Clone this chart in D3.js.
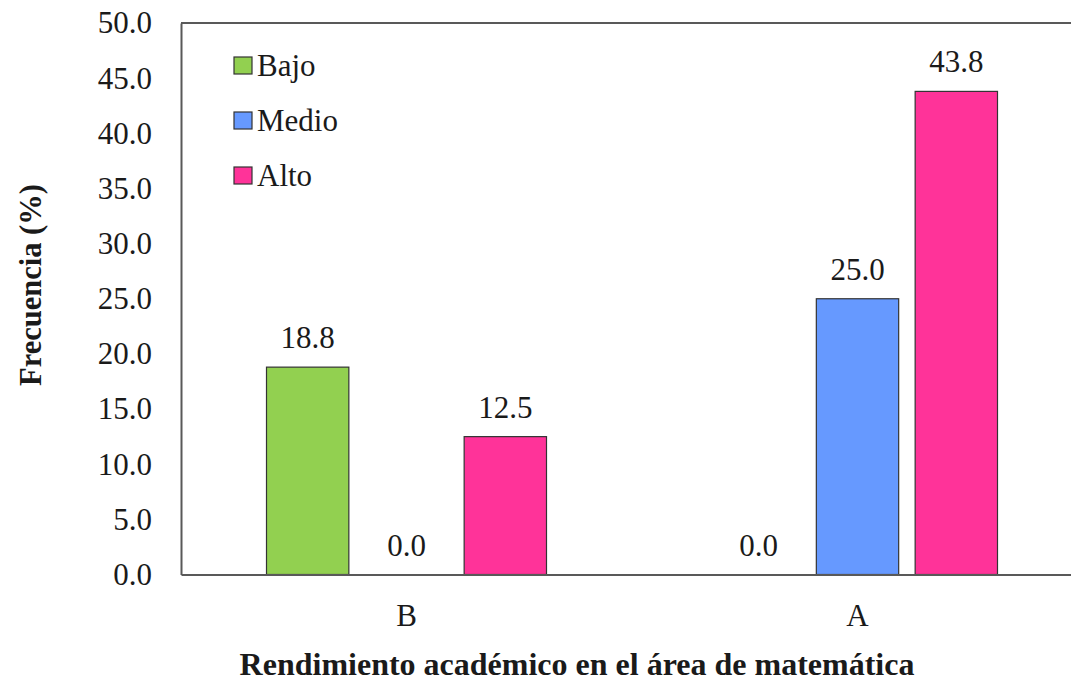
<!DOCTYPE html>
<html lang="es">
<head>
    <meta charset="UTF-8">
    <title>Rendimiento académico en matemática</title>
    <script src="https://d3js.org/d3.v7.min.js"></script>
    <style>
        body {
            margin: 0;
            background: #fff;
        }

        svg {
            display: block;
        }

        text {
            font-family: 'Liberation Serif', 'Times New Roman', serif;
            fill: #1a1a1a;
        }
    </style>
</head>
<body>
    <div id="chart"></div>

    <script>
        // data
        const categories = ["B", "A"];
        const seriesNames = ["Bajo", "Medio", "Alto"];
        const bajo = [18.8, 0.0];
        const medio = [0.0, 25.0];
        const alto = [12.5, 43.8];
        const yTicks = [0, 5, 10, 15, 20, 25, 30, 35, 40, 45, 50];
        const colors = ["#92D050", "#6699FF", "#FF3399"];

        const seriesValues = [bajo, medio, alto];

        let width = 1071, height = 681;
        let svg = d3.select("#chart").append("svg")
            .attr("width", width)
            .attr("height", height);

        // plot area (runs past the right edge like the original)
        let plotLeft = 181, plotRight = 1083, plotTop = 23, plotBottom = 574.5;

        let x0 = d3.scaleBand()
            .domain(categories)
            .range([plotLeft, plotRight])
            .paddingInner(0)
            .paddingOuter(0);

        // three 80px bars with 20px gaps, centred in each band
        let x1 = d3.scaleBand()
            .domain(seriesNames)
            .range([0, 280])
            .paddingInner(0.2 / 1.2)
            .paddingOuter(0);
        let bandOffset = (x0.bandwidth() - 280) / 2;

        let y = d3.scaleLinear()
            .domain([0, 50])
            .range([plotBottom, plotTop]);

        // frame: top line
        svg.append("line")
            .attr("x1", plotLeft).attr("x2", width)
            .attr("y1", plotTop).attr("y2", plotTop)
            .attr("stroke", "#595959").attr("stroke-width", 2);

        // y axis with no tick marks
        let yAxis = d3.axisLeft(y)
            .tickValues(yTicks)
            .tickFormat(d3.format(".1f"))
            .tickSize(0)
            .tickPadding(29);

        let gy = svg.append("g")
            .attr("transform", `translate(${plotLeft},0)`)
            .call(yAxis);
        gy.select(".domain").attr("stroke", "#595959").attr("stroke-width", 2);
        gy.selectAll("text")
            .style("font-family", "'Liberation Serif', serif")
            .style("font-size", "31px")
            .attr("fill", "#1a1a1a");

        // bars
        let groups = svg.selectAll(".grp")
            .data(categories)
            .enter().append("g")
            .attr("class", "grp")
            .attr("transform", d => `translate(${x0(d) + bandOffset},0)`);

        groups.each(function (cat, ci) {
            let g = d3.select(this);
            seriesNames.forEach((s, si) => {
                let v = seriesValues[si][ci];
                if (v > 0) {
                    g.append("rect")
                        .attr("x", x1(s))
                        .attr("y", y(v))
                        .attr("width", x1.bandwidth())
                        .attr("height", y(0) - y(v))
                        .attr("fill", colors[si])
                        .attr("stroke", "#333")
                        .attr("stroke-width", 1.2);
                }
                g.append("text")
                    .attr("x", x1(s) + x1.bandwidth() / 2)
                    .attr("y", y(v) - 19)
                    .attr("text-anchor", "middle")
                    .style("font-size", "31px")
                    .text(v.toFixed(1));
            });
        });

        // x axis
        let xAxis = d3.axisBottom(x0).tickSize(0).tickPadding(29);
        let gx = svg.append("g")
            .attr("transform", `translate(0,${plotBottom})`)
            .call(xAxis);
        gx.select(".domain").attr("stroke", "#595959").attr("stroke-width", 2);
        gx.selectAll("text")
            .style("font-family", "'Liberation Serif', serif")
            .style("font-size", "31px")
            .attr("fill", "#1a1a1a");

        // legend
        let legend = svg.selectAll(".leg")
            .data(seriesNames)
            .enter().append("g")
            .attr("class", "leg")
            .attr("transform", (d, i) => `translate(234,${57 + i * 55})`);

        legend.append("rect")
            .attr("width", 18).attr("height", 17)
            .attr("fill", (d, i) => colors[i])
            .attr("stroke", "#333").attr("stroke-width", 1.2);

        legend.append("text")
            .attr("x", 23).attr("y", 8.5).attr("dy", "0.35em")
            .style("font-size", "31px")
            .text(d => d);

        // axis titles
        svg.append("text")
            .attr("transform", "translate(41,285) rotate(-90)")
            .attr("text-anchor", "middle")
            .style("font-size", "30.5px")
            .style("font-weight", "bold")
            .text("Frecuencia (%)");

        svg.append("text")
            .attr("x", 577).attr("y", 675)
            .attr("text-anchor", "middle")
            .style("font-size", "32px")
            .style("font-weight", "bold")
            .text("Rendimiento académico en el área de matemática");
    </script>
</body>
</html>
